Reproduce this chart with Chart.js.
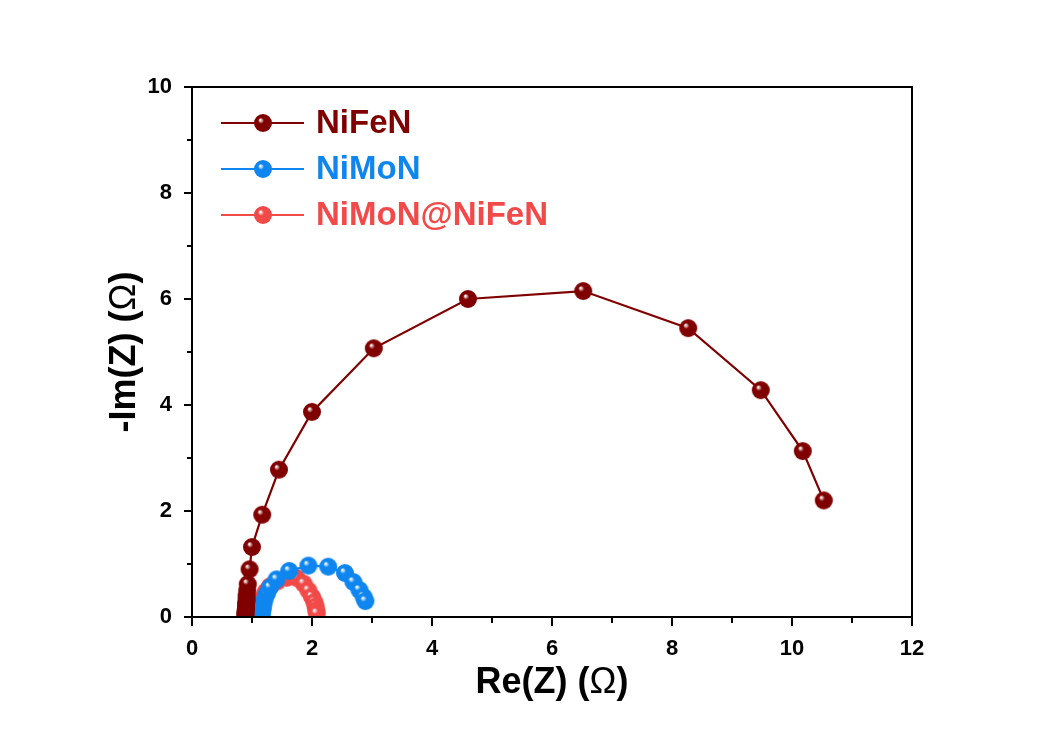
<!DOCTYPE html>
<html>
<head>
<meta charset="utf-8">
<title>Nyquist plot</title>
<script src="https://cdn.jsdelivr.net/npm/chart.js@4.4.1/dist/chart.umd.min.js"></script>
<style>
  html, body { margin: 0; padding: 0; background: #fff; }
  #wrap { width: 1043px; height: 733px; }
</style>
</head>
<body>
<div id="wrap"><canvas id="eisChart" width="1043" height="733"></canvas></div>
<script>
// Nyquist data: Re(Z) / -Im(Z) in ohm
const nifenRe = [0.89, 0.89, 0.89, 0.90, 0.90, 0.90, 0.91, 0.91, 0.92, 0.93, 0.96, 1.00, 1.17, 1.45, 2.00, 3.03, 4.60, 6.52, 8.27, 9.48, 10.18, 10.53];
const nifenIm = [0.02, 0.05, 0.09, 0.14, 0.19, 0.25, 0.32, 0.40, 0.50, 0.62, 0.90, 1.32, 1.93, 2.78, 3.87, 5.07, 6.00, 6.15, 5.45, 4.28, 3.13, 2.20];

const nimonRe = [1.16, 1.16, 1.17, 1.18, 1.19, 1.21, 1.25, 1.30, 1.41, 1.62, 1.94, 2.27, 2.55, 2.69, 2.79, 2.86, 2.89];
const nimonIm = [0.02, 0.06, 0.11, 0.17, 0.24, 0.33, 0.44, 0.56, 0.71, 0.87, 0.97, 0.95, 0.83, 0.66, 0.51, 0.38, 0.30];

const hetRe = [1.12, 1.12, 1.13, 1.14, 1.16, 1.19, 1.23, 1.30, 1.42, 1.58, 1.74, 1.86, 1.94, 2.00, 2.04, 2.06, 2.07, 2.08];
const hetIm = [0.03, 0.08, 0.14, 0.21, 0.29, 0.38, 0.48, 0.58, 0.67, 0.74, 0.74, 0.63, 0.50, 0.38, 0.28, 0.20, 0.13, 0.07];

const seriesNames = ["NiFeN", "NiMoN", "NiMoN@NiFeN"];
const seriesColors = ["#800000", "#0f86ef", "#f24949"];

const xTicks = [0, 2, 4, 6, 8, 10, 12];
const yTicks = [0, 2, 4, 6, 8, 10];

const FONT = "'Liberation Sans', Arial, sans-serif";

// shaded ball marker like the original plot
function makeBall(color, r) {
  const size = Math.ceil(r * 2) + 2;
  const c = document.createElement("canvas");
  c.width = size;
  c.height = size;
  const g = c.getContext("2d");
  const cx = size / 2, cy = size / 2;
  const grad = g.createRadialGradient(cx - r * 0.3, cy - r * 0.35, r * 0.05, cx, cy, r);
  grad.addColorStop(0, "#ffffff");
  grad.addColorStop(0.3, color);
  grad.addColorStop(1, color);
  g.beginPath();
  g.arc(cx, cy, r, 0, Math.PI * 2);
  g.fillStyle = grad;
  g.fill();
  return c;
}

const balls = seriesColors.map((c) => makeBall(c, 9));

function toPoints(xs, ys) {
  return xs.map((x, i) => ({ x: x, y: ys[i] }));
}

const datasets = [
  toPoints(nifenRe, nifenIm),
  toPoints(nimonRe, nimonIm),
  toPoints(hetRe, hetIm),
].map((pts, i) => ({
  label: seriesNames[i],
  data: pts,
  showLine: true,
  borderColor: seriesColors[i],
  backgroundColor: seriesColors[i],
  borderWidth: 2.2,
  pointStyle: balls[i],
  pointRadius: 9,
  tension: 0,
}));

// text in pieces so the Omega can be regular weight like the original
function drawTitle(ctx, parts, cx, cy, rot) {
  ctx.save();
  ctx.translate(cx, cy);
  ctx.rotate(rot);
  ctx.textBaseline = "middle";
  ctx.fillStyle = "#000";
  let total = 0;
  parts.forEach((p) => {
    ctx.font = p[1] + " 36px " + FONT;
    total += ctx.measureText(p[0]).width;
  });
  let x = -total / 2;
  parts.forEach((p) => {
    ctx.font = p[1] + " 36px " + FONT;
    ctx.fillText(p[0], x, 0);
    x += ctx.measureText(p[0]).width;
  });
  ctx.restore();
}

// frame + major/minor ticks + axis titles
const framePlugin = {
  id: "frame",
  afterDraw(chart) {
    const { ctx, chartArea: a, scales } = chart;
    ctx.save();
    ctx.strokeStyle = "#000";
    ctx.lineWidth = 2;
    ctx.strokeRect(a.left, a.top, a.right - a.left, a.bottom - a.top);
    ctx.beginPath();
    for (let v = 0; v <= 12; v++) {
      const px = scales.x.getPixelForValue(v);
      const len = v % 2 === 0 ? 9 : 6;
      ctx.moveTo(px, a.bottom);
      ctx.lineTo(px, a.bottom + len);
    }
    for (let v = 0; v <= 10; v++) {
      const py = scales.y.getPixelForValue(v);
      const len = v % 2 === 0 ? 8 : 5;
      ctx.moveTo(a.left, py);
      ctx.lineTo(a.left - len, py);
    }
    ctx.stroke();
    ctx.restore();

    const midX = (a.left + a.right) / 2;
    const midY = (a.top + a.bottom) / 2;
    drawTitle(ctx, [["Re(Z) (", "bold"], ["Ω", "normal"], [")", "bold"]], midX, 683, 0);
    drawTitle(ctx, [["-Im(Z) (", "bold"], ["Ω", "normal"], [")", "bold"]], 125, midY, -Math.PI / 2);
  },
};

// legend drawn inside the plot, top-left
const legendPlugin = {
  id: "insideLegend",
  afterDatasetsDraw(chart) {
    const { ctx, chartArea: a } = chart;
    ctx.save();
    ctx.font = "bold 33px " + FONT;
    ctx.textBaseline = "middle";
    seriesNames.forEach((name, i) => {
      const y = a.top + 36 + i * 46;
      const x0 = a.left + 29;
      ctx.strokeStyle = seriesColors[i];
      ctx.lineWidth = 2;
      ctx.beginPath();
      ctx.moveTo(x0, y);
      ctx.lineTo(x0 + 83, y);
      ctx.stroke();
      const b = balls[i];
      ctx.drawImage(b, x0 + 42 - b.width / 2, y - b.height / 2);
      ctx.fillStyle = seriesColors[i];
      ctx.fillText(name, x0 + 95, y + 1);
    });
    ctx.restore();
  },
};

new Chart(document.getElementById("eisChart"), {
  type: "scatter",
  data: { datasets: datasets },
  options: {
    responsive: false,
    animation: false,
    layout: { padding: { left: 0, right: 131, top: 87, bottom: 0 } },
    plugins: {
      legend: { display: false },
      tooltip: { enabled: false },
    },
    scales: {
      x: {
        type: "linear",
        min: 0,
        max: 12,
        afterFit: (s) => { s.height = 116; },
        afterBuildTicks: (s) => { s.ticks = xTicks.map((v) => ({ value: v })); },
        grid: { display: false, drawTicks: false },
        border: { display: false },
        ticks: {
          padding: 19,
          color: "#000",
          font: { family: FONT, size: 22, weight: "bold" },
        },
      },
      y: {
        type: "linear",
        min: 0,
        max: 10,
        afterFit: (s) => { s.width = 192; },
        afterBuildTicks: (s) => { s.ticks = yTicks.map((v) => ({ value: v })); },
        grid: { display: false, drawTicks: false },
        border: { display: false },
        ticks: {
          padding: 20,
          color: "#000",
          font: { family: FONT, size: 22, weight: "bold" },
        },
      },
    },
  },
  plugins: [framePlugin, legendPlugin],
});
</script>
</body>
</html>
